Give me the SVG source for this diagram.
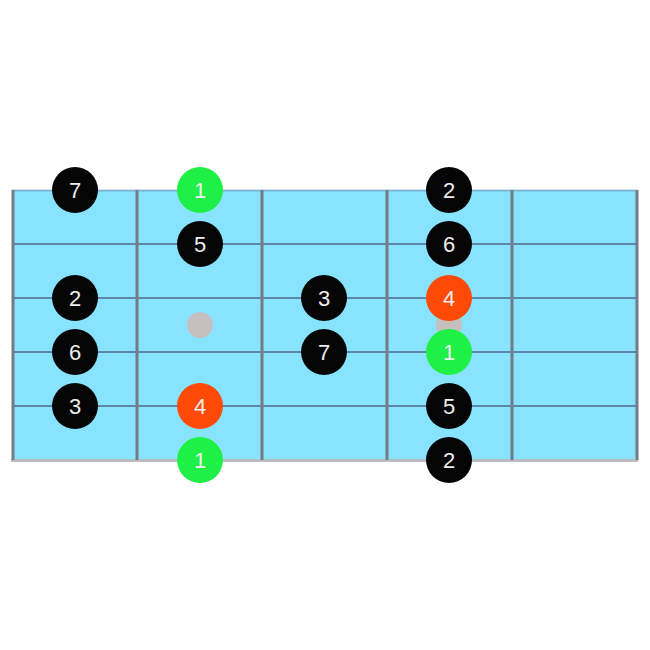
<svg xmlns="http://www.w3.org/2000/svg" width="650" height="650" viewBox="0 0 650 650">
<style>
.board{fill:#88e4fe}
.str{stroke:#5f86a8;stroke-width:2}
.fret{stroke:#737b84;stroke-width:3}
.edge{stroke:#b9bcbe;stroke-width:3}
.dot{fill:#c6bfbf}
.n circle{stroke:none}
.blk circle{fill:#050505}
.grn circle{fill:#1ef046}
.red circle{fill:#ff4a05}
.n text{fill:#eeeeee;font-family:"Liberation Sans",Arial,sans-serif;font-size:22px;text-anchor:middle}
</style>
<rect width="650" height="650" fill="#ffffff"/>
<g id="fretboard">
<rect class="board" x="12" y="190" width="625" height="270"/>
<line class="str" x1="12" y1="190.5" x2="637" y2="190.5" stroke-opacity="0.5"/>
<line class="str" x1="12" y1="244" x2="637" y2="244"/>
<line class="str" x1="12" y1="298" x2="637" y2="298"/>
<line class="str" x1="12" y1="352" x2="637" y2="352"/>
<line class="str" x1="12" y1="406" x2="637" y2="406"/>
<line class="edge" x1="11" y1="460.5" x2="638" y2="460.5"/>
<line class="fret" x1="13" y1="190" x2="13" y2="460"/>
<line class="fret" x1="137" y1="190" x2="137" y2="460"/>
<line class="fret" x1="262" y1="190" x2="262" y2="460"/>
<line class="fret" x1="387" y1="190" x2="387" y2="460"/>
<line class="fret" x1="512" y1="190" x2="512" y2="460"/>
<line class="fret" x1="637" y1="190" x2="637" y2="460"/>
<circle class="dot" cx="200" cy="325" r="13"/>
<circle class="dot" cx="449" cy="325" r="13"/>
</g>
<g id="connectors"></g>
<g id="n1" class="n blk"><circle cx="75" cy="190" r="23"/><text x="75" y="198">7</text></g>
<g id="n2" class="n grn"><circle cx="200" cy="190" r="23"/><text x="200" y="198">1</text></g>
<g id="n3" class="n blk"><circle cx="449" cy="190" r="23"/><text x="449" y="198">2</text></g>
<g id="n4" class="n blk"><circle cx="200" cy="244" r="23"/><text x="200" y="252">5</text></g>
<g id="n5" class="n blk"><circle cx="449" cy="244" r="23"/><text x="449" y="252">6</text></g>
<g id="n6" class="n blk"><circle cx="75" cy="298" r="23"/><text x="75" y="306">2</text></g>
<g id="n7" class="n blk"><circle cx="324" cy="298" r="23"/><text x="324" y="306">3</text></g>
<g id="n8" class="n red"><circle cx="449" cy="298" r="23"/><text x="449" y="306">4</text></g>
<g id="n9" class="n blk"><circle cx="75" cy="352" r="23"/><text x="75" y="360">6</text></g>
<g id="n10" class="n blk"><circle cx="324" cy="352" r="23"/><text x="324" y="360">7</text></g>
<g id="n11" class="n grn"><circle cx="449" cy="352" r="23"/><text x="449" y="360">1</text></g>
<g id="n12" class="n blk"><circle cx="75" cy="406" r="23"/><text x="75" y="414">3</text></g>
<g id="n13" class="n red"><circle cx="200" cy="406" r="23"/><text x="200" y="414">4</text></g>
<g id="n14" class="n blk"><circle cx="449" cy="406" r="23"/><text x="449" y="414">5</text></g>
<g id="n15" class="n grn"><circle cx="200" cy="460" r="23"/><text x="200" y="468">1</text></g>
<g id="n16" class="n blk"><circle cx="449" cy="460" r="23"/><text x="449" y="468">2</text></g>
</svg>
